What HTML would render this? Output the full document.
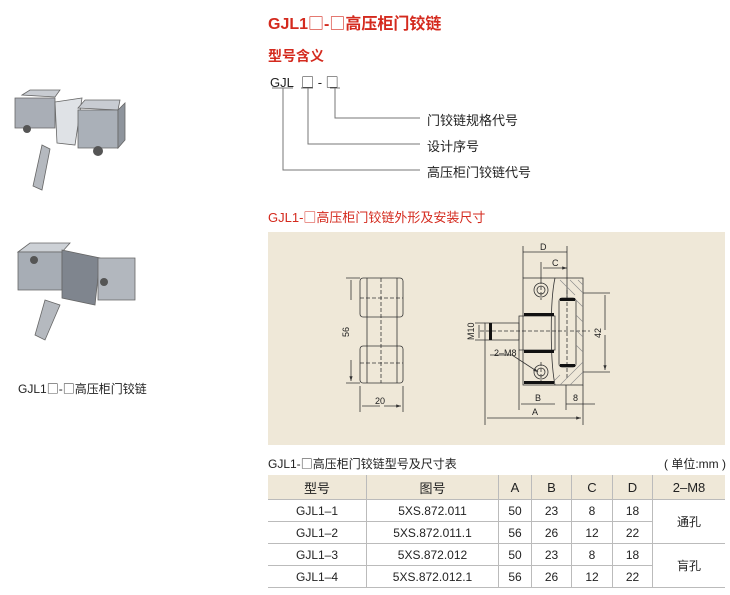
<!DOCTYPE html>
<html><head><meta charset="utf-8"><style>
body{margin:0;width:730px;height:595px;background:#fff;position:relative;overflow:hidden;font-family:"Liberation Sans","Noto Sans CJK SC",sans-serif;color:#222}
.a{position:absolute;white-space:nowrap}
.red{color:#d42a1e}
.b{font-family:"Noto Sans CJK SC",sans-serif;font-weight:normal}
table{position:absolute;left:268px;top:475px;border-collapse:collapse;font-size:12px}
td{text-align:center;height:21px;padding:0;border-bottom:1px solid #bbb;border-left:1px solid #bbb}
td:first-child{border-left:none}
tr.h td{background:#efe8d8;height:24px;font-size:13px}
</style></head><body>
<div class="a red" style="left:268px;top:10px;font-size:16px;font-weight:bold">GJL1<span class="b">□</span>-<span class="b">□</span>高压柜门铰链</div>
<div class="a red" style="left:268px;top:46px;font-size:14px;font-weight:bold">型号含义</div>
<div class="a" style="left:270px;top:72px;font-size:13px">GJL&nbsp;&nbsp;<span class="b">□</span>&nbsp;-&nbsp;<span class="b">□</span></div>
<svg class="a" style="left:0;top:0" width="730" height="595">
<defs><marker id="ar" markerWidth="6" markerHeight="6" refX="6" refY="3" orient="auto"><path d="M0 1L6 3L0 5Z" fill="#333"/></marker></defs>
<g stroke="#777" fill="none" stroke-width="1">
<path d="M272 88H293M301 88H313M330 88H340"/>
<path d="M283 88V170H420M308 88V144H420M335 88V118H420"/>
</g>
<rect x="268" y="232" width="457" height="213" fill="#efe8d8"/>
<g stroke="#333" fill="none" stroke-width="0.8">
<rect x="360" y="278" width="43" height="39" rx="3"/>
<rect x="360" y="346" width="43" height="37" rx="3"/>
<path d="M367 317V346M397 317V346M367 278V383M397 278V383"/>
<path d="M381 278V383M360 298H403M360 363H403" stroke-dasharray="4 2"/>
<path d="M346 278H360M346 383H360M360 386V412M403 386V412"/>
<path d="M351 300V280M351 360V381" marker-end="url(#ar)"/>
<path d="M380 406H362M384 406H401" marker-end="url(#ar)"/>
<rect x="523" y="278" width="60" height="107"/>
<path d="M519 316H555V350H519Z"/>
<path d="M485 323H519V340H485Z"/>
<rect x="559" y="298" width="17" height="69" rx="3"/>
<circle cx="541" cy="290" r="7"/><circle cx="541" cy="290" r="4"/>
<circle cx="541" cy="372" r="7"/><circle cx="541" cy="372" r="4"/>
<path d="M555 278C550 300 550 360 555 385"/>
<path d="M480 331H590M567 290V380M541 280V300M541 362V382" stroke-dasharray="4 2"/>
<path d="M523 246V278M567 246V298M541 262V280"/>
<path d="M545 252H523M545 252H567M555 268H543M555 268H567" marker-end="url(#ar)"/>
<path d="M583 293H610M583 372H610"/>
<path d="M605 330V295M605 335V370" marker-end="url(#ar)"/>
<path d="M485 340V425M519 350V410M583 385V425M566 385V410"/>
<path d="M538 404H521M538 404H555M566 404H595M534 418H487M534 418H581" marker-end="url(#ar)"/>
<path d="M475 323H485M475 340H485M479 325V338"/>
<path d="M490 355H512L538 372" marker-end="url(#ar)"/>
</g>
<g stroke="#888" stroke-width="0.6">
<path d="M560 280L575 295M570 280L583 293M578 280L583 285M576 300L583 307M576 315L583 322M576 330L583 337M576 345L583 352M560 385L583 362M570 385L583 372M555 380L560 375"/>
</g>
<g fill="#111">
<rect x="524" y="313" width="30" height="3"/><rect x="524" y="350" width="30" height="3"/>
<rect x="524" y="381" width="30" height="3"/><rect x="489" y="323" width="3" height="17"/>
<rect x="560" y="298" width="15" height="3"/><rect x="560" y="364" width="15" height="3"/>
</g>
<g font-size="9" fill="#222" font-family="Liberation Sans,sans-serif">
<text x="540" y="250">D</text><text x="552" y="266">C</text>
<text x="535" y="401">B</text><text x="573" y="401">8</text><text x="532" y="415">A</text>
<text x="494" y="356">2–M8</text><text x="375" y="404">20</text>
<text transform="translate(349 337) rotate(-90)">56</text>
<text transform="translate(474 340) rotate(-90)">M10</text>
<text transform="translate(601 338) rotate(-90)">42</text>
</g>
<g stroke="#666" stroke-width="0.8">
<path d="M22 95L30 90H60L55 97Z" fill="#c8ccd2"/>
<path d="M15 98H55V128H15Z" fill="#a9aeb6"/>
<path d="M55 102L82 98L75 145L57 143Z" fill="#dfe2e6"/>
<path d="M78 108L85 100H120L118 110Z" fill="#c8ccd2"/>
<path d="M78 110H118V148H78Z" fill="#aab0b8"/>
<path d="M118 110L125 103V140L118 148Z" fill="#8e949c"/>
<path d="M42 145L50 149L42 190L33 186Z" fill="#b5b9bf"/>
<path d="M18 252L30 243H70L62 252Z" fill="#cdd1d6"/>
<path d="M18 252H62V290H18Z" fill="#a7adb5"/>
<path d="M62 250L100 258L95 305L62 298Z" fill="#7f858e"/>
<path d="M98 258H135V300H98Z" fill="#b2b7be"/>
<path d="M45 300L60 305L45 340L35 335Z" fill="#b5b9bf"/>
</g>
<g fill="#555"><circle cx="27" cy="129" r="4"/><circle cx="98" cy="151" r="5"/><circle cx="34" cy="260" r="4"/><circle cx="104" cy="282" r="4"/></g>
</svg>
<div class="a" style="left:427px;top:110px;font-size:13px">门铰链规格代号</div>
<div class="a" style="left:427px;top:136px;font-size:13px">设计序号</div>
<div class="a" style="left:427px;top:162px;font-size:13px">高压柜门铰链代号</div>
<div class="a red" style="left:268px;top:207px;font-size:13px">GJL1-<span class="b">□</span>高压柜门铰链外形及安装尺寸</div>
<div class="a" style="left:18px;top:380px;font-size:12px">GJL1<span class="b">□</span>-<span class="b">□</span>高压柜门铰链</div>
<div class="a" style="left:268px;top:455px;font-size:12px">GJL1-<span class="b">□</span>高压柜门铰链型号及尺寸表</div>
<div class="a" style="left:664px;top:455px;font-size:12px">( 单位:mm )</div>
<table>
<tr class="h"><td style="width:98px">型号</td><td style="width:131px">图号</td><td style="width:32px">A</td><td style="width:39px">B</td><td style="width:40px">C</td><td style="width:39px">D</td><td style="width:72px">2–M8</td></tr>
<tr><td>GJL1–1</td><td>5XS.872.011</td><td>50</td><td>23</td><td>8</td><td>18</td><td rowspan="2">通孔</td></tr>
<tr><td>GJL1–2</td><td>5XS.872.011.1</td><td>56</td><td>26</td><td>12</td><td>22</td></tr>
<tr><td>GJL1–3</td><td>5XS.872.012</td><td>50</td><td>23</td><td>8</td><td>18</td><td rowspan="2">肓孔</td></tr>
<tr><td>GJL1–4</td><td>5XS.872.012.1</td><td>56</td><td>26</td><td>12</td><td>22</td></tr>
</table>
</body></html>
